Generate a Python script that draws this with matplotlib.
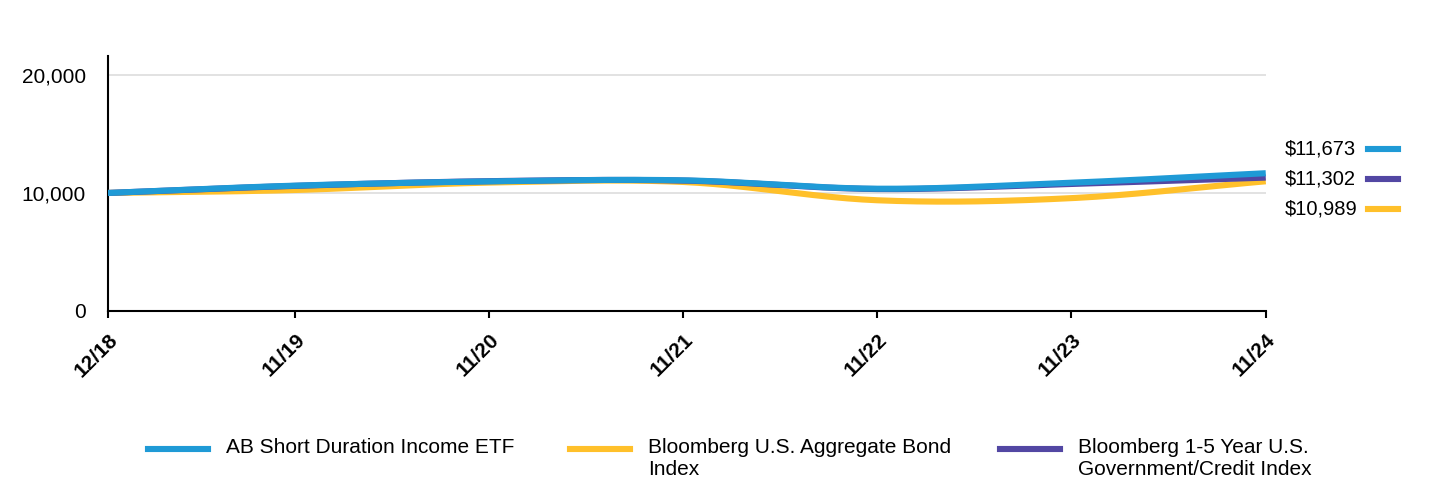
import matplotlib
matplotlib.use('Agg')
import matplotlib.pyplot as plt
from matplotlib.lines import Line2D
import numpy as np

plt.rcParams['font.family'] = ['Liberation Sans', 'DejaVu Sans']

dates = ['2018-12-13', '2019-11-30', '2020-11-30', '2021-11-30',
         '2022-11-30', '2023-11-30', '2024-11-30']
tick_labels = ['12/18', '11/19', '11/20', '11/21', '11/22', '11/23', '11/24']

etf = [10000, 10620, 10980, 11070, 10360, 10870, 11673]
agg = [10000, 10250, 10880, 10930, 9380, 9560, 10989]
gov = [10000, 10600, 11000, 11050, 10330, 10760, 11302]

names = ['AB Short Duration Income ETF',
         'Bloomberg U.S. Aggregate Bond\nIndex',
         'Bloomberg 1-5 Year U.S.\nGovernment/Credit Index']
c_etf = '#1f9ad6'
c_agg = '#ffc02a'
c_gov = '#5247a3'

days = (np.array(dates, dtype='datetime64[D]') - np.datetime64(dates[0], 'D')).astype(float)


def smooth(x, y, n=40):
    # catmull-rom curve through the points, just for drawing
    x = np.asarray(x, float)
    y = np.asarray(y, float)
    px = np.concatenate([[2 * x[0] - x[1]], x, [2 * x[-1] - x[-2]]])
    py = np.concatenate([[2 * y[0] - y[1]], y, [2 * y[-1] - y[-2]]])
    xs, ys = [], []
    t = np.linspace(0, 1, n)
    for i in range(1, len(px) - 2):
        for p, out in ((px, xs), (py, ys)):
            p0, p1, p2, p3 = p[i - 1], p[i], p[i + 1], p[i + 2]
            out.extend(0.5 * (2 * p1 + (-p0 + p2) * t + (2 * p0 - 5 * p1 + 4 * p2 - p3) * t ** 2
                              + (-p0 + 3 * p1 - 3 * p2 + p3) * t ** 3))
    return xs, ys


fig = plt.figure(figsize=(14.4, 4.92), dpi=100)
ax = fig.add_axes([0.075, 0.368, 0.804, 0.518])

for ser, col in ((agg, c_agg), (gov, c_gov), (etf, c_etf)):
    sx, sy = smooth(days, ser)
    ax.plot(sx, sy, color=col, lw=4.4, solid_capstyle='butt', zorder=3)

ax.set_xlim(days[0], days[-1])
ax.set_ylim(0, 21600)
ax.set_yticks([0, 10000, 20000])
ax.set_yticklabels(['0', '10,000', '20,000'], fontsize=15)
ax.set_xticks(days)
ax.set_xticklabels(tick_labels, fontsize=15, fontweight='bold', rotation=45,
                   ha='right', va='top', rotation_mode='anchor')
ax.tick_params(axis='y', length=0, pad=16)
ax.tick_params(axis='x', length=5, width=1.5, pad=9)
ax.grid(axis='y', color='#dddddd', lw=1.2, zorder=0)
for s in ('top', 'right'):
    ax.spines[s].set_visible(False)
for s in ('left', 'bottom'):
    ax.spines[s].set_linewidth(1.5)
    ax.spines[s].set_color('black')

# end labels at the right
end_vals = [etf[-1], gov[-1], agg[-1]]
end_cols = [c_etf, c_gov, c_agg]
for i, (v, col) in enumerate(zip(end_vals, end_cols)):
    yy = 1 - (149 + 30 * i) / 492
    fig.text(1285 / 1440, yy, '${:,}'.format(v), fontsize=14.5, va='center', ha='left')
    fig.add_artist(Line2D([1368 / 1440, 1398 / 1440], [yy, yy], color=col, lw=4.4))

# legend at the bottom
leg_x = [148, 570, 1000]
for x0, name, col in zip(leg_x, names, [c_etf, c_agg, c_gov]):
    ly = 1 - 449 / 492
    fig.add_artist(Line2D([x0 / 1440, (x0 + 60) / 1440], [ly, ly], color=col, lw=4.4))
    fig.text((x0 + 78) / 1440, 1 - 438 / 492, name, fontsize=15, va='top', ha='left',
             linespacing=1.2)

fig.savefig('out.png', dpi=100)
